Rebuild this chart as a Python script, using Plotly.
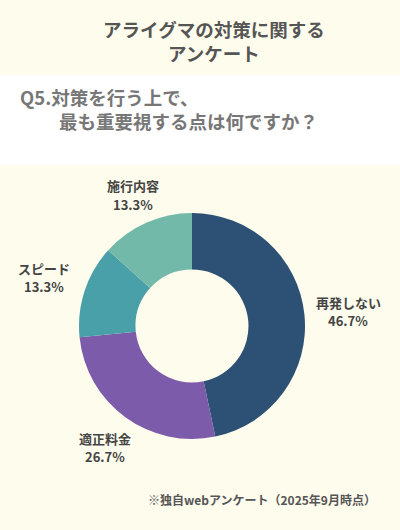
import plotly.graph_objects as go

# survey answers, clockwise from 12 o'clock
labels = ['再発しない', '適正料金', 'スピード', '施行内容']
values = [46.7, 26.7, 13.3, 13.3]
colors = ['#2D5075', '#7C5BAA', '#4AA0A9', '#73B9AA']

W, H = 400, 530
FONT = 'Noto Sans CJK JP'


def px(x, y):
    # pixel position -> paper coords
    return x / W, 1 - y / H


def note(x, y, text, size, color, xanchor='center'):
    ax, ay = px(x, y)
    return dict(
        x=ax, y=ay, xref='paper', yref='paper',
        xanchor=xanchor, yanchor='middle',
        text=text, showarrow=False,
        font=dict(family=FONT, size=size, color=color),
    )


pie = go.Pie(
    labels=labels,
    values=values,
    hole=0.5,
    sort=False,
    direction='clockwise',
    rotation=0,
    marker=dict(colors=colors, line=dict(width=0)),
    textinfo='none',
    hoverinfo='label+percent',
    domain=dict(x=[79 / W, 305 / W], y=[1 - 439 / H, 1 - 213 / H]),
    showlegend=False,
)

# where each slice's label sits (pixels, name line)
label_pos = {
    '再発しない': (348, 302),
    '適正料金': (105, 438),
    'スピード': (44, 268),
    '施行内容': (133, 186),
}

annotations = []
for lab, val in zip(labels, values):
    x, y = label_pos[lab]
    annotations.append(note(x, y, f'<b>{lab}</b>', 13, '#444444'))
    annotations.append(note(x, y + 18, f'<b>{val:.1f}%</b>', 13, '#444444'))

annotations.append(note(214, 29, '<b>アライグマの対策に関する</b>', 18.5, '#555555'))
annotations.append(note(214, 53, '<b>アンケート</b>', 18.5, '#555555'))
annotations.append(note(18, 97, '<b>Q5.対策を行う上で、</b>', 18.5, '#777777', 'left'))
annotations.append(note(57, 121, '<b>最も重要視する点は何ですか？</b>', 18.5, '#777777', 'left'))
annotations.append(note(378, 499, '<b>※独自webアンケート（2025年9月時点）</b>', 12, '#555555', 'right'))

shapes = [{
    'type': 'rect', 'xref': 'paper', 'yref': 'paper',
    'x0': 0, 'x1': 1, 'y0': 1 - 165 / H, 'y1': 1 - 75 / H,
    'fillcolor': '#FFFFFF', 'line': {'width': 0}, 'layer': 'below',
}]

fig = go.Figure(data=[pie])
fig.update_layout(
    width=W, height=H,
    margin=dict(l=0, r=0, t=0, b=0),
    paper_bgcolor='#FEFCEC',
    plot_bgcolor='#FEFCEC',
    annotations=annotations,
    shapes=shapes,
)
fig.write_html('out.html', config={'displayModeBar': False},
               post_script="document.body.style.margin='0';")
